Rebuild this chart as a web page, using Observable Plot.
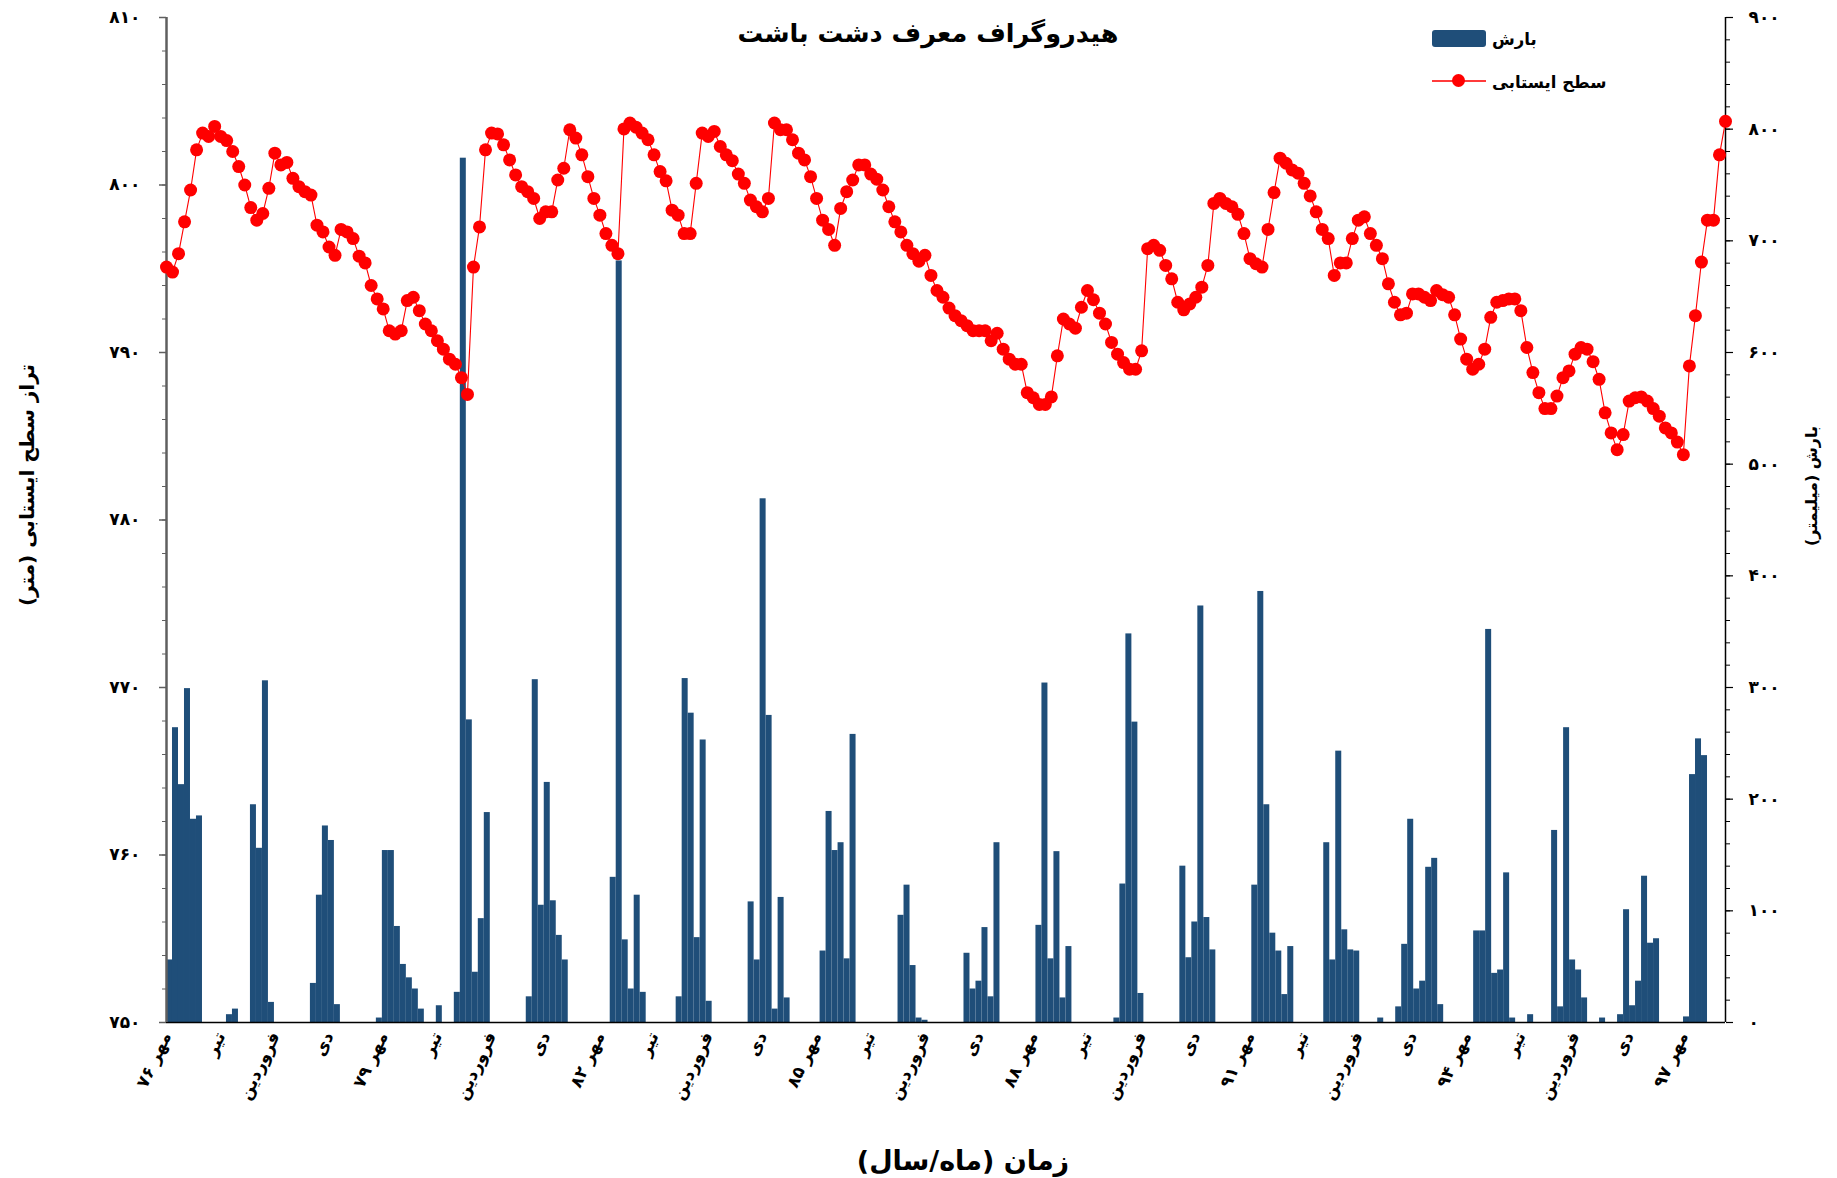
<!DOCTYPE html>
<html>
<head>
<meta charset="utf-8">
<script src="https://cdn.jsdelivr.net/npm/d3@7"></script>
<script src="https://cdn.jsdelivr.net/npm/@observablehq/plot@0.6"></script>
<style>
  html, body { margin: 0; padding: 0; background: #fff; }
  #wrap { position: relative; width: 1837px; height: 1178px; font-family: "DejaVu Sans", sans-serif; overflow: hidden; }
  .t { position: absolute; font-weight: bold; white-space: nowrap; direction: rtl; color: #000; line-height: 1; }
</style>
</head>
<body>
<div id="wrap"></div>
<script>
// Water table level (m), monthly from Mehr 76
const level = [
  795.1, 794.8, 795.9, 797.8, 799.7, 802.1, 803.1, 802.9, 803.5, 802.9,
  802.65, 802.0, 801.1, 800.0, 798.65, 797.9, 798.3, 799.8, 801.9, 801.2,
  801.35, 800.4, 799.9, 799.6, 799.4, 797.6, 797.2, 796.3, 795.8, 797.35,
  797.2, 796.8, 795.75, 795.35, 794.0, 793.2, 792.6, 791.3, 791.1,
  791.3, 793.1, 793.3, 792.5, 791.7, 791.3, 790.7, 790.2, 789.6, 789.3,
  788.5, 787.5, 795.1, 797.5, 802.1, 803.1, 803.05, 802.4, 801.5, 800.6,
  799.9, 799.6, 799.2, 798.0, 798.4, 798.4, 800.3, 801.0, 803.3, 802.8,
  801.8, 800.5, 799.2, 798.2, 797.1, 796.4, 795.9, 803.35,
  803.7, 803.45, 803.1, 802.7, 801.8, 800.8, 800.25, 798.5, 798.2, 797.1,
  797.1, 800.1, 803.1, 802.9, 803.2, 802.3, 801.8, 801.45, 800.65, 800.1,
  799.1, 798.7, 798.4, 799.2, 803.7, 803.3, 803.3, 802.7, 801.9, 801.5,
  800.5, 799.2, 797.9, 797.35, 796.4, 798.6, 799.6,
  800.3, 801.2, 801.2, 800.65, 800.35, 799.7, 798.7, 797.8, 797.2, 796.4,
  795.9, 795.45, 795.8, 794.6, 793.7, 793.3, 792.65, 792.2, 791.9, 791.6,
  791.3, 791.3, 791.3, 790.7, 791.15, 790.2, 789.6, 789.3, 789.3, 787.6,
  787.3, 786.9, 786.9, 787.35, 789.8, 792.0, 791.7,
  791.45, 792.7, 793.7, 793.15, 792.35, 791.7, 790.6, 789.9, 789.4, 789.0,
  789.0, 790.1, 796.2, 796.4, 796.1, 795.2, 794.4, 793.0, 792.55, 792.9,
  793.3, 793.9, 795.2, 798.9, 799.2, 798.9, 798.7, 798.25, 797.1, 795.6,
  795.3, 795.1, 797.35, 799.55, 801.6, 801.3, 800.9,
  800.7, 800.1, 799.35, 798.4, 797.35, 796.8, 794.6, 795.35, 795.35, 796.8,
  797.9, 798.1, 797.1, 796.4, 795.6, 794.1, 793.0, 792.25, 792.35, 793.5,
  793.5, 793.3, 793.1, 793.7, 793.45, 793.3, 792.25, 790.8, 789.6, 789.0,
  789.3, 790.2, 792.1, 793.0, 793.1, 793.2, 793.2,
  792.5, 790.3, 788.8, 787.6, 786.65, 786.65, 787.4, 788.5, 788.9, 789.9,
  790.3, 790.2, 789.45, 788.4, 786.4, 785.2, 784.2, 785.1, 787.1, 787.3,
  787.35, 787.1, 786.65, 786.2, 785.5, 785.2, 784.65, 783.9, 789.2, 792.2,
  795.4, 797.9, 797.9, 801.8, 803.8
];

// Monthly precipitation (mm)
const rain = [
  56, 264, 213, 299, 182, 185, 0, 0, 0, 0,
  7, 12, 0, 0, 195, 156, 306, 18, 0, 0,
  0, 0, 0, 0, 35, 114, 176, 163, 16, 0,
  0, 0, 0, 0, 0, 4, 154, 154, 86, 52,
  40, 30, 12, 0, 0, 15, 0, 0, 27, 774,
  271, 45, 93, 188, 0, 0, 0, 0, 0, 0,
  23, 307, 105, 215, 109, 78, 56, 0, 0, 0,
  0, 0, 0, 0, 130, 682, 74, 30, 114, 27,
  0, 0, 0, 0, 0, 23, 308, 277, 76, 253,
  19, 0, 0, 0, 0, 0, 0, 108, 56, 469,
  275, 12, 112, 22, 0, 0, 0, 0, 0, 64,
  189, 154, 161, 57, 258, 0, 0, 0, 0, 0,
  0, 0, 96, 123, 51, 4, 2, 0, 0, 0,
  0, 0, 0, 62, 30, 37, 85, 23, 161, 0,
  0, 0, 0, 0, 0, 87, 304, 57, 153, 22,
  68, 0, 0, 0, 0, 0, 0, 0, 4, 124,
  348, 269, 26, 0, 0, 0, 0, 0, 0, 140,
  58, 90, 373, 94, 65, 0, 0, 0, 0, 0,
  0, 123, 386, 195, 80, 64, 25, 68, 0, 0,
  0, 0, 0, 161, 56, 243, 83, 65, 64, 0,
  0, 0, 4, 0, 0, 14, 70, 182, 30, 37,
  139, 147, 16, 0, 0, 0, 0, 0, 82, 82,
  352, 44, 47, 134, 4, 0, 0, 7, 0, 0,
  0, 172, 14, 264, 56, 47, 22, 0, 0, 4,
  0, 0, 7, 101, 15, 37, 131, 71, 75, 0,
  0, 0, 0, 5, 222, 254, 239, 0, 0, 0
];

// Category tick labels (every 9 months from Mehr 76)
const xLabels = [
  "مهر ۷۶", "تیر", "فروردین", "دی",
  "مهر ۷۹", "تیر", "فروردین", "دی",
  "مهر ۸۲", "تیر", "فروردین", "دی",
  "مهر ۸۵", "تیر", "فروردین", "دی",
  "مهر ۸۸", "تیر", "فروردین", "دی",
  "مهر ۹۱", "تیر", "فروردین", "دی",
  "مهر ۹۴", "تیر", "فروردین", "دی",
  "مهر ۹۷"
];
const labelStep = 9;

const levelTicks = [750, 760, 770, 780, 790, 800, 810];
const levelMinor = d3.range(750, 810.1, 2);
const rainTicks = [0, 100, 200, 300, 400, 500, 600, 700, 800, 900];
const rainMinor = d3.range(0, 900.1, 20);

const titleText = "هیدروگراف معرف دشت باشت";
const yLeftTitle = "تراز سطح ایستابی (متر)";
const yRightTitle = "بارش (میلیمتر)";
const xTitle = "زمان (ماه/سال)";
const legendRain = "بارش";
const legendLevel = "سطح ایستابی";

const N = level.length;
const yMin = 750, yMax = 810, rMax = 900;
const rainToY = r => yMin + r * (yMax - yMin) / rMax;
const yToRain = v => Math.round((v - yMin) * rMax / (yMax - yMin));
const faDigits = "۰۱۲۳۴۵۶۷۸۹";
const toFa = s => String(s).replace(/\d/g, d => faDigits[d]);

const barColor = "#1f4e79";

const chart = Plot.plot({
  width: 1837,
  height: 1178,
  marginLeft: 166,
  marginRight: 112,
  marginTop: 17,
  marginBottom: 156,
  x: {domain: [0, N - 1], axis: null},
  y: {domain: [yMin, yMax]},
  style: {fontFamily: "DejaVu Sans", fontSize: "17px", color: "#000", background: "#fff", overflow: "visible"},
  marks: [
    Plot.rect(rain, {
      x1: (d, i) => i * (N - 1) / N,
      x2: (d, i) => (i + 1) * (N - 1) / N,
      y1: () => yMin,
      y2: d => rainToY(d),
      fill: barColor
    }),
    Plot.ruleY([yMin], {x1: 0, x2: N - 1, stroke: "#000", strokeWidth: 1.5}),
    Plot.ruleX([0], {y1: yMin, y2: yMax, stroke: "#5f5f5f", strokeWidth: 2.5}),
    Plot.ruleX([N - 1], {y1: yMin, y2: yMax, stroke: "#000", strokeWidth: 1.5}),
    Plot.line(level, {x: (d, i) => i, y: d => d, stroke: "#ff0000", strokeWidth: 1.1}),
    Plot.dot(level, {x: (d, i) => i, y: d => d, r: 6.5, fill: "#ff0000", stroke: "none"}),
    Plot.axisY({anchor: "left", ticks: levelTicks, tickSize: 7, tickPadding: 19, tickFormat: toFa,
      fontSize: 17, fontWeight: "bold", label: null, stroke: "#5f5f5f", strokeWidth: 1.5}),
    Plot.axisY({anchor: "left", ticks: levelMinor, tickSize: 4, tickFormat: () => "", label: null, stroke: "#5f5f5f"}),
    Plot.axisY({anchor: "right", ticks: rainTicks.map(rainToY), tickSize: 7, tickPadding: 16,
      tickFormat: v => toFa(yToRain(v)), fontSize: 17, fontWeight: "bold", label: null, stroke: "#000", strokeWidth: 1.2}),
    Plot.axisY({anchor: "right", ticks: rainMinor.map(rainToY), tickSize: 4, tickFormat: () => "", label: null, stroke: "#000"}),
    Plot.text(xLabels, {
      x: (d, i) => i * labelStep,
      text: d => d,
      frameAnchor: "bottom",
      dy: 13,
      dx: 5,
      rotate: -65,
      textAnchor: "end",
      fontSize: 17,
      fontWeight: "bold",
      fill: "#000"
    })
  ]
});

const wrap = document.getElementById("wrap");
wrap.appendChild(chart);

function addText(txt, css) {
  const d = document.createElement("div");
  d.className = "t";
  d.textContent = txt;
  Object.assign(d.style, css);
  wrap.appendChild(d);
  return d;
}
addText(titleText, {left: "928px", top: "34px", fontSize: "25.5px", transform: "translate(-50%,-50%)"});
addText(yLeftTitle, {left: "27px", top: "485px", fontSize: "20px", transform: "translate(-50%,-50%) rotate(-90deg)"});
addText(yRightTitle, {left: "1812px", top: "486px", fontSize: "16px", transform: "translate(-50%,-50%) rotate(-90deg)"});
addText(xTitle, {left: "963px", top: "1160px", fontSize: "27px", transform: "translate(-50%,-50%)"});

// legend
const sw = document.createElement("div");
Object.assign(sw.style, {position: "absolute", left: "1432px", top: "30px", width: "54px", height: "17px", background: barColor, borderRadius: "3px"});
wrap.appendChild(sw);
addText(legendRain, {left: "1492px", top: "40px", fontSize: "16.5px", transform: "translateY(-50%)"});
const ln = document.createElement("div");
Object.assign(ln.style, {position: "absolute", left: "1432px", top: "80px", width: "54px", height: "1.5px", background: "#ff3b3b"});
wrap.appendChild(ln);
const dt = document.createElement("div");
Object.assign(dt.style, {position: "absolute", left: "1452px", top: "74px", width: "13px", height: "13px", background: "#ff0000", borderRadius: "50%"});
wrap.appendChild(dt);
addText(legendLevel, {left: "1492px", top: "83px", fontSize: "16.5px", transform: "translateY(-50%)"});
</script>
</body>
</html>
